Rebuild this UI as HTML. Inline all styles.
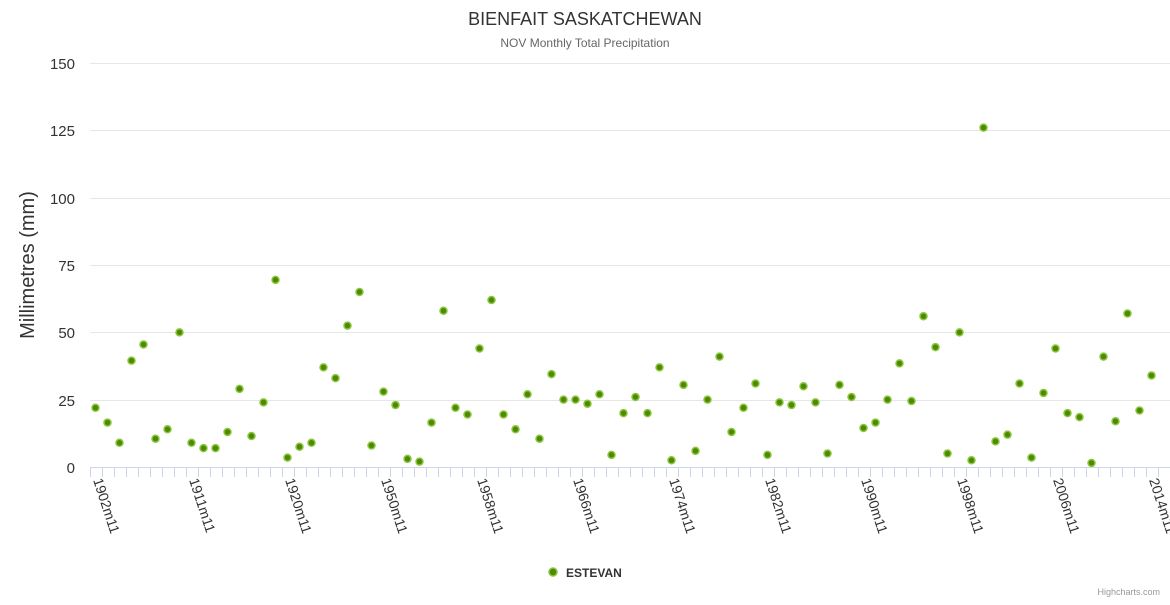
<!DOCTYPE html>
<html><head><meta charset="utf-8"><style>
body{margin:0;background:#fff;}
svg text{font-family:"Liberation Sans",sans-serif;}
</style></head><body>
<svg width="1170" height="600" xmlns="http://www.w3.org/2000/svg">
<text x="585" y="25" text-anchor="middle" font-size="18" fill="#333">BIENFAIT SASKATCHEWAN</text>
<text x="585" y="47" text-anchor="middle" font-size="12" fill="#666">NOV Monthly Total Precipitation</text>
<g stroke="#e6e6e6" stroke-width="1">
<line x1="90" x2="1170" y1="63.5" y2="63.5"/><line x1="90" x2="1170" y1="130.5" y2="130.5"/>
<line x1="90" x2="1170" y1="198.5" y2="198.5"/><line x1="90" x2="1170" y1="265.5" y2="265.5"/>
<line x1="90" x2="1170" y1="332.5" y2="332.5"/><line x1="90" x2="1170" y1="400.5" y2="400.5"/>
</g>
<g font-size="15" fill="#333" text-anchor="end">
<text x="75" y="69">150</text><text x="75" y="136">125</text><text x="75" y="204">100</text>
<text x="75" y="271">75</text><text x="75" y="338">50</text><text x="75" y="406">25</text><text x="75" y="473">0</text>
</g>
<text transform="translate(34,265) rotate(-90)" text-anchor="middle" font-size="20" fill="#333">Millimetres (mm)</text>
<line x1="90" x2="1170" y1="467.5" y2="467.5" stroke="#ccd6eb"/>
<g id="ticks" stroke="#ccd6eb"></g>
<g font-size="14" fill="#333">
<text transform="translate(93,480) rotate(72)">1902m11</text>
<text transform="translate(189,480) rotate(72)">1911m11</text>
<text transform="translate(285,480) rotate(72)">1920m11</text>
<text transform="translate(381,480) rotate(72)">1950m11</text>
<text transform="translate(477,480) rotate(72)">1958m11</text>
<text transform="translate(573,480) rotate(72)">1966m11</text>
<text transform="translate(669,480) rotate(72)">1974m11</text>
<text transform="translate(765,480) rotate(72)">1982m11</text>
<text transform="translate(861,480) rotate(72)">1990m11</text>
<text transform="translate(957,480) rotate(72)">1998m11</text>
<text transform="translate(1053,480) rotate(72)">2006m11</text>
<text transform="translate(1149,480) rotate(72)">2014m11</text>
</g>
<g id="pts"></g>
<circle cx="553" cy="572" r="4" fill="#4d8a00" stroke="#8cc63f" stroke-width="1.5"/>
<text x="566" y="577" font-size="12" font-weight="bold" fill="#333">ESTEVAN</text>
<text x="1160" y="595" text-anchor="end" font-size="9" fill="#999">Highcharts.com</text>
</svg>
<script>
var v=[22,16.5,9,39.5,45.5,10.5,14,50,9,7,7,13,29,11.5,24,69.5,3.5,7.5,9,37,33,52.5,65,8,28,23,3,2,16.5,58,22,19.5,44,62,19.5,14,27,10.5,34.5,25,25,23.5,27,4.5,20,26,20,37,2.5,30.5,6,25,41,13,22,31,4.5,24,23,30,24,5,30.5,26,14.5,16.5,25,38.5,24.5,56,44.5,5,50,2.5,126,9.5,12,31,3.5,27.5,44,20,18.5,1.5,41,17,57,21,34];
var ns="http://www.w3.org/2000/svg",g=document.getElementById("pts"),t=document.getElementById("ticks");
for(var i=0;i<=90;i++){var l=document.createElementNS(ns,"line");var x=90.5+12*i;l.setAttribute("x1",x);l.setAttribute("x2",x);l.setAttribute("y1",467);l.setAttribute("y2",477);t.appendChild(l);}
v.forEach(function(d,i){var c=document.createElementNS(ns,"circle");c.setAttribute("cx",95.5+12*i);c.setAttribute("cy",467-d*2.693);c.setAttribute("r",3.5);c.setAttribute("fill","#4d8a00");c.setAttribute("stroke","#8cc63f");c.setAttribute("stroke-width","1.5");g.appendChild(c);});
</script>
</body></html>
